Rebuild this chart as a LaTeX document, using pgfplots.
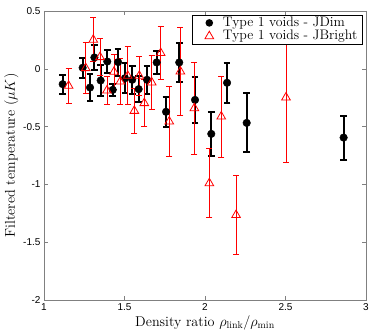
\documentclass[border=0pt]{standalone}
\usepackage{pgfplots}
\pgfplotsset{compat=1.18}
\usepackage{fontspec}
\newfontfamily\ticksfont{Liberation Sans}

\begin{document}
\begin{tikzpicture}
\begin{axis}[
  scale only axis,
  width=322pt, height=289pt,
  xmin=1, xmax=3, ymin=-2, ymax=0.5,
  xtick={1,1.5,2,2.5,3},
  ytick={-2,-1.5,-1,-0.5,0,0.5},
  tick align=inside,
  major tick length=4pt,
  axis line style={gray},
  tick style={gray},
  every tick label/.style={font=\ticksfont\fontsize{10}{12}\selectfont},
  /pgf/number format/assume math mode=true,
  xlabel={Density ratio $\rho_{\mathrm{link}}/\rho_{\mathrm{min}}$},
  ylabel={Filtered temperature ($\mu K$)},
  label style={font=\fontsize{14.2}{16}\selectfont},
  xlabel style={yshift=2pt},
  ylabel style={yshift=-2pt},
  legend style={at={(0.988,0.986)}, anchor=north east, draw=black,
    font=\fontsize{13.8}{15}\selectfont, inner xsep=4pt, inner ysep=1pt, row sep=0pt,
    nodes={inner sep=0.6pt, text height=9.3pt, text depth=2.8pt}},
  legend cell align=left,
]
% legend entries
\addlegendimage{draw=none, legend image code/.code={%
  \path[draw=none] (0pt,0pt) -- (26pt,0pt);
  \fill[black, draw=none] (13pt,0pt) circle (3.8pt);}}
\addlegendentry{Type 1 voids - JDim}
\addlegendimage{draw=none, legend image code/.code={%
  \path[draw=none] (0pt,0pt) -- (26pt,0pt);
  \draw[red, fill=none, line width=0.8pt] (13pt,0pt) ++(90:5pt) -- ++(-60:8.66pt) -- ++(180:8.66pt) -- cycle;}}
\addlegendentry{Type 1 voids - JBright}
% Type 1 voids - JDim
\addplot[black, only marks, forget plot, mark=*, mark size=3.8pt,
  error bars/.cd, y dir=both, y explicit,
  error bar style={line width=2pt},
  error mark=-,
  error mark options={rotate=90, line width=2pt, mark size=3.4pt}]
coordinates {
(1.116,-0.133) +- (0,0.082)
(1.240,0.009) +- (0,0.087)
(1.286,-0.162) +- (0,0.115)
(1.313,0.098) +- (0,0.110)
(1.352,-0.101) +- (0,0.136)
(1.393,0.063) +- (0,0.097)
(1.427,-0.182) +- (0,0.052)
(1.460,0.058) +- (0,0.117)
(1.503,-0.081) +- (0,0.127)
(1.548,-0.095) +- (0,0.120)
(1.588,-0.176) +- (0,0.115)
(1.640,-0.095) +- (0,0.120)
(1.700,0.055) +- (0,0.097)
(1.758,-0.372) +- (0,0.130)
(1.840,0.055) +- (0,0.165)
(1.938,-0.269) +- (0,0.200)
(2.039,-0.563) +- (0,0.190)
(2.137,-0.121) +- (0,0.173)
(2.259,-0.468) +- (0,0.255)
(2.861,-0.595) +- (0,0.190)
};
% Type 1 voids - JBright
\addplot[red, only marks, forget plot, mark=triangle, mark size=5pt, mark options={line width=0.8pt},
  error bars/.cd, y dir=both, y explicit,
  error bar style={line width=0.9pt},
  error mark=-,
  error mark options={rotate=90, line width=0.9pt, mark size=3pt}]
coordinates {
(1.153,-0.147) +- (0,0.150)
(1.259,0.006) +- (0,0.220)
(1.306,0.251) +- (0,0.190)
(1.348,0.101) +- (0,0.160)
(1.391,-0.188) +- (0,0.118)
(1.435,-0.026) +- (0,0.150)
(1.474,-0.110) +- (0,0.200)
(1.520,-0.061) +- (0,0.250)
(1.561,-0.364) +- (0,0.195)
(1.592,-0.061) +- (0,0.170)
(1.623,-0.297) +- (0,0.205)
(1.669,-0.118) +- (0,0.230)
(1.725,0.136) +- (0,0.230)
(1.778,-0.456) +- (0,0.300)
(1.847,-0.023) +- (0,0.380)
(1.934,-0.341) +- (0,0.400)
(2.027,-0.990) +- (0,0.300)
(2.101,-0.413) +- (0,0.350)
(2.193,-1.265) +- (0,0.340)
(2.503,-0.248) +- (0,0.560)
};
\end{axis}
\pgfresetboundingbox
\path (-44pt,-34pt) rectangle (330pt,300pt);
\end{tikzpicture}
\end{document}
